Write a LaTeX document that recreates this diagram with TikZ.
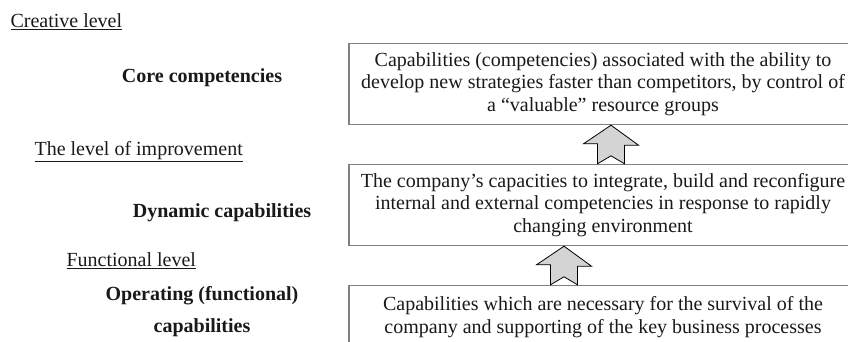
\documentclass[tikz,border=0pt]{standalone}
\usepackage{fontspec}
\setmainfont{Liberation Serif}
\definecolor{boxgray}{gray}{0.5}
\definecolor{arrowgray}{gray}{0.83}
\begin{document}
\begin{tikzpicture}[x = 1pt, y = -1pt]
		\tikzstyle{every node} = [font = \fontsize{20}{22.5}\selectfont, text = black!90]
		\tikzstyle{capbox} = [draw = boxgray, line width = 1.4pt, minimum width = 508pt, minimum height = 81pt, align = center, inner sep = 0pt]
		\tikzstyle{level} = [anchor = west]
		\tikzstyle{kind} = [font = \fontsize{20}{32}\selectfont\bfseries, align = center]
		\tikzstyle{bigarrow} = [draw = black, fill = arrowgray, line width = .8pt, line join = miter]
		\useasboundingbox (0,0) rectangle (848,342);

		% boxes on the right
		\node [capbox] (core) at (603,84) {Capabilities (competencies) associated with the ability to\\ develop new strategies faster than competitors, by control of\\ a ``valuable'' resource groups};
		\node [capbox] (dyn) at (603,205) {The company's capacities to integrate, build and reconfigure\\ internal and external competencies in response to rapidly\\ changing environment};
		\node [capbox] (oper) at (603,326) {Capabilities which are necessary for the survival of the\\ company and supporting of the key business processes\\ ~};

		% levels and kinds on the left
		\node [level] (creative) at (7,22) {\underline{Creative level}};
		\node [kind] (corename) at (202,78) {Core competencies};
		\node [level] (improve) at (31,152) {\underline{The level of improvement}};
		\node [kind] (dynname) at (222,213) {Dynamic capabilities};
		\node [level] (funct) at (63,261) {\underline{Functional level}};
		\node [kind] (opername) at (202,312) {Operating (functional)\\ capabilities};

		% arrows between the boxes
		\coordinate (a1top) at ([xshift = 8pt]core.south);
		\coordinate (a1bot) at ([xshift = 8pt]dyn.north);
		\coordinate (a2top) at ([xshift = -39pt]dyn.south);
		\coordinate (a2bot) at ([xshift = -39pt]oper.north);
		\foreach \t/\b in {a1top/a1bot, a2top/a2bot}
		{
			\draw [bigarrow] (\t) -- ++(27.5,20) -- ++(-14,0) -- ([xshift = 13.5pt]\b) -- ++(-13.5,-8) -- ++(-13.5,8) -- ++(0,-20) -- ++(-14,0) -- cycle;
		}
	\end{tikzpicture}
\end{document}
